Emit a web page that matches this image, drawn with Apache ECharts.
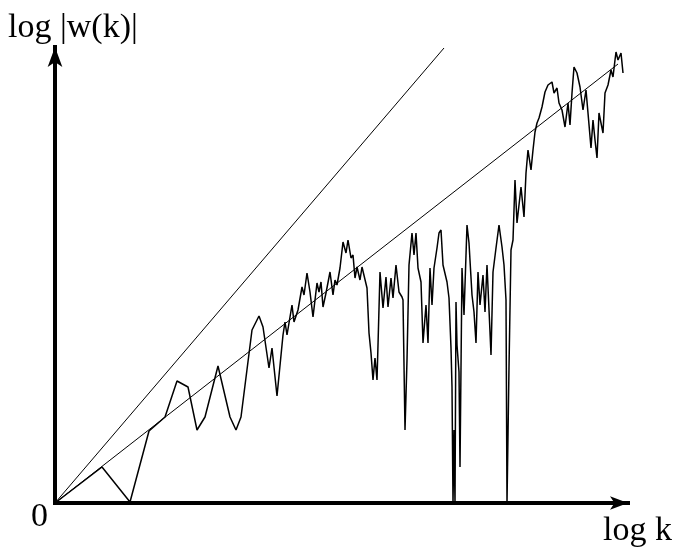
<!DOCTYPE html>
<html lang="en">
  <head>
    <meta charset="UTF-8" />
    <title>log |w(k)| vs log k</title>
    <script src="https://cdn.jsdelivr.net/npm/echarts/dist/echarts.min.js"></script>
    <style>
      html, body { margin: 0; padding: 0; background: #fff; }
      #main { width: 679px; height: 558px; }
    </style>
  </head>
  <body>
    <div id="main"></div>
    <script>
      // log k positions of the measured trace
      var logK = [
        0, 47, 75, 94, 110, 122, 133, 142, 150, 163,
        175, 181, 186, 197, 204, 208, 214, 217, 222, 228,
        230, 232, 237, 239, 243, 247, 249, 252, 255, 258,
        262, 264, 266, 268, 271, 275, 278, 280, 282, 285,
        288, 291, 293, 296, 298, 300, 302, 305, 307, 309,
        312, 314, 316, 318, 320, 322, 323, 325, 328, 331,
        333, 336, 338, 341, 344, 347, 348, 350, 352, 354,
        357, 359, 361, 363, 366, 368, 371, 373, 375, 377,
        379, 382, 384, 386, 388, 392, 394, 396, 397, 398,
        399, 400, 401, 402, 404, 405, 407, 409, 412, 414,
        417, 419, 421, 423, 425, 428, 430, 432, 435, 436,
        438, 441, 444, 447, 449, 451, 452, 454, 456, 458,
        460, 462, 466, 469, 471, 473, 476, 478, 480, 482,
        484, 487, 490, 493, 497, 499, 502, 504, 507, 510,
        513, 515, 517, 519, 522, 525, 528, 531, 533, 536,
        538, 540, 542, 544, 548, 550, 553, 556, 558, 560,
        561, 563, 566, 568
      ];
      // log |w(k)| values of the measured trace
      var logW = [
        0, 36, 1, 72, 86, 122, 116, 73, 86, 137,
        86, 73, 86, 173, 187, 176, 135, 155, 107, 168,
        181, 168, 198, 181, 193, 216, 208, 230, 211, 186,
        220, 211, 221, 196, 210, 231, 208, 223, 218, 235,
        261, 250, 263, 245, 248, 225, 236, 223, 236, 238,
        215, 170, 150, 123, 145, 123, 158, 231, 195, 226,
        196, 225, 205, 238, 211, 206, 203, 73, 143, 238,
        270, 248, 270, 235, 221, 160, 198, 160, 235, 198,
        235, 255, 270, 273, 238, 221, 205, 155, 116, 0,
        73, 0, 201, 158, 131, 36, 235, 188, 278, 260,
        208, 191, 160, 231, 198, 228, 191, 238, 171, 148,
        231, 255, 278, 256, 238, 203, 0, 136, 253, 263,
        323, 280, 316, 286, 330, 353, 333, 353, 371, 380,
        385, 396, 411, 418, 421, 410, 415, 400, 393, 376,
        400, 378, 410, 436, 430, 416, 393, 413, 390, 355,
        383, 363, 345, 390, 370, 410, 418, 433, 426, 443,
        451, 443, 450, 430
      ];
      // the two reference slopes through the origin
      var steepEnd = [389, 455];
      var shallowEnd = [563, 439];

      var chartDom = document.getElementById("main");
      var myChart = echarts.init(chartDom);

      var trace = logK.map(function (k, i) {
        return [k, logW[i]];
      });

      var axisLine = {
        show: true,
        onZero: false,
        symbol: ["none", "arrow"],
        lineStyle: { color: "#000", width: 4, cap: "square" },
      };

      var font = '34px "Liberation Serif", "DejaVu Serif", serif';

      var option = {
        animation: false,
        backgroundColor: "#fff",
        grid: { left: 55, right: 51, top: 47, bottom: 55 },
        xAxis: {
          type: "value",
          min: 0,
          max: 573,
          axisLine: Object.assign({}, axisLine, { symbolSize: [10, 18] }),
          axisTick: { show: false },
          axisLabel: { show: false },
          splitLine: { show: false },
        },
        yAxis: {
          type: "value",
          min: 0,
          max: 456,
          axisLine: Object.assign({}, axisLine, { symbolSize: [11, 20] }),
          axisTick: { show: false },
          axisLabel: { show: false },
          splitLine: { show: false },
        },
        graphic: [
          {
            type: "text",
            left: 8,
            top: 11,
            style: { text: "log |w(k)|", font: font, fill: "#000" },
          },
          {
            type: "text",
            left: 31,
            top: 500,
            style: { text: "0", font: font, fill: "#000" },
          },
          {
            type: "text",
            left: 603,
            top: 514,
            style: { text: "log k", font: font, fill: "#000" },
          },
        ],
        series: [
          {
            type: "line",
            data: [[0, 0], steepEnd],
            showSymbol: false,
            clip: false,
            lineStyle: { color: "#000", width: 1 },
          },
          {
            type: "line",
            data: [[0, 0], shallowEnd],
            showSymbol: false,
            clip: false,
            lineStyle: { color: "#000", width: 1 },
          },
          {
            type: "line",
            data: trace,
            showSymbol: false,
            clip: false,
            lineStyle: { color: "#000", width: 1.5 },
          },
        ],
      };

      myChart.setOption(option);
    </script>
  </body>
</html>
